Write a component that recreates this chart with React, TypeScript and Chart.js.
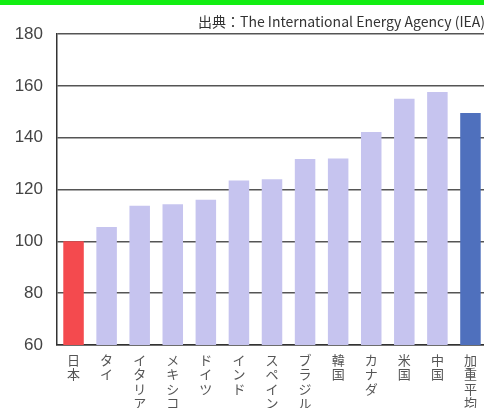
import React, { useEffect, useRef } from "react";
import { Chart, registerables } from "chart.js";

Chart.register(...registerables);

const categories: string[] = [
  "日本", "タイ", "イタリア", "メキシコ", "ドイツ", "インド", "スペイン",
  "ブラジル", "韓国", "カナダ", "米国", "中国", "加重平均",
];
const values: number[] = [100, 105.5, 113.7, 114.3, 116, 123.5, 124, 131.8, 132, 142.2, 155, 157.6, 149.5];
const barColors: string[] = [
  "#f44a4e", "#c6c4ef", "#c6c4ef", "#c6c4ef", "#c6c4ef", "#c6c4ef", "#c6c4ef",
  "#c6c4ef", "#c6c4ef", "#c6c4ef", "#c6c4ef", "#c6c4ef", "#4f70bd",
];
const yTicks: number[] = [60, 80, 100, 120, 140, 160, 180];
const sourceNote = "出典：The International Energy Agency (IEA)";

// vertical labels: one character per line
const stackedLabels = categories.map((c) => Array.from(c));

const sourcePlugin = {
  id: "sourceNote",
  afterDraw(chart: Chart) {
    const ctx = chart.ctx;
    ctx.save();
    ctx.font = '14px "Noto Sans CJK JP", "Liberation Sans", sans-serif';
    ctx.fillStyle = "#333";
    ctx.textAlign = "right";
    ctx.textBaseline = "middle";
    ctx.fillText(sourceNote, 485, 22);
    ctx.restore();
  },
};

export default function App() {
  const ref = useRef<HTMLCanvasElement>(null);

  useEffect(() => {
    if (!ref.current) return;
    const chart = new Chart(ref.current, {
      type: "bar",
      data: {
        labels: stackedLabels,
        datasets: [
          {
            data: values,
            backgroundColor: barColors,
            borderWidth: 0,
            barPercentage: 0.62,
            categoryPercentage: 1,
          },
        ],
      },
      options: {
        responsive: false,
        animation: false,
        layout: { padding: { top: 34, right: 5, left: 0, bottom: 0 } },
        plugins: { legend: { display: false }, tooltip: { enabled: false } },
        scales: {
          x: {
            grid: { display: false },
            border: { display: true, color: "#333", width: 1.5 },
            ticks: {
              autoSkip: false,
              maxRotation: 0,
              minRotation: 0,
              padding: 0,
              color: "#555",
              font: { family: '"Noto Sans CJK JP", sans-serif', size: 13, lineHeight: 1.1 },
            },
            afterFit(scale: any) {
              scale.height = 63;
            },
          },
          y: {
            min: 60,
            max: 180,
            afterBuildTicks(scale: any) {
              scale.ticks = yTicks.map((v) => ({ value: v }));
            },
            grid: { color: "#555", lineWidth: 1.4, drawTicks: false },
            border: { display: true, color: "#333", width: 1.5 },
            ticks: {
              padding: 14,
              color: "#444",
              font: { family: '"Liberation Sans", Arial, sans-serif', size: 17 },
            },
            afterFit(scale: any) {
              scale.width = 57;
            },
          },
        },
      },
      plugins: [sourcePlugin],
    });
    return () => chart.destroy();
  }, []);

  return (
    <div style={{ position: "fixed", left: 0, top: 0, width: 484, height: 408, overflow: "hidden", background: "#fff" }}>
      <div style={{ position: "absolute", left: 0, top: 0, width: 484, height: 5, background: "#12ee12" }} />
      <canvas ref={ref} width={492} height={408} style={{ position: "absolute", left: 0, top: 0 }} />
    </div>
  );
}
